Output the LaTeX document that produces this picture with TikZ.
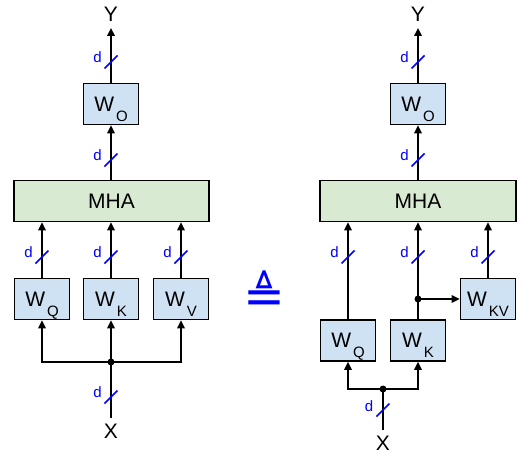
\documentclass[tikz,border=0pt]{standalone}
\usepackage{fontspec}
\setmainfont{Liberation Sans}
\newfontfamily\dejavu{DejaVu Sans}
\usetikzlibrary{arrows.meta}
\definecolor{boxblue}{HTML}{CFE2F3}
\definecolor{boxgreen}{HTML}{D9EAD3}
\definecolor{dblue}{HTML}{0000FF}
\newcommand{\Wsub}[1]{W\kern2pt\raisebox{-10pt}[0pt][0pt]{\fontsize{15}{15}\selectfont #1}}
\newcommand{\dslashmark}[2]{\draw[slashmark] (#1,#2) ++(-6.5,6.5) -- ++(13,-13);}
\begin{document}
\begin{tikzpicture}[x=1pt,y=-1pt,
 wbox/.style={draw=black,line width=1.6pt,fill=boxblue,minimum width=55pt,minimum height=41pt,inner sep=0pt,font=\fontsize{21}{21}\selectfont},
 mhabox/.style={draw=black,line width=1.6pt,fill=boxgreen,minimum width=195pt,minimum height=41pt,inner sep=0pt,font=\fontsize{21}{21}\selectfont},
 io/.style={inner xsep=0pt,inner ysep=6pt,font=\fontsize{21}{21}\selectfont},
 conn/.style={line width=1.5pt,-{Triangle[length=8pt,width=7.5pt]}},
 wire/.style={line width=1.5pt},
 dot/.style={circle,fill=black,inner sep=0pt,minimum size=7pt},
 dlab/.style={text=dblue,font=\fontsize{15}{15}\selectfont,inner sep=0pt},
 slashmark/.style={draw=dblue,line width=1.5pt}
]
\useasboundingbox (0,0) rectangle (520,455);

% ---------- left ----------
\node[io] (y1) at (111,14.5) {Y};
\node[wbox] (wo1) at (111,104) {\Wsub{O}};
\node[mhabox] (mha1) at (111.5,201) {MHA};
\node[wbox] (wq1) at (42,299) {\Wsub{Q}};
\node[wbox] (wk1) at (111,299) {\Wsub{K}};
\node[wbox] (wv1) at (181,299) {\Wsub{V}};
\node[io] (x1) at (111,431.5) {X};
\coordinate (j1) at (111,362);

\draw[conn] (wo1.north) -- (y1.south);
\draw[conn] (wo1.south |- mha1.north) -- (wo1.south);
\draw[conn] (wq1.north) -- (wq1.north |- mha1.south);
\draw[conn] (wk1.north) -- (wk1.north |- mha1.south);
\draw[conn] (wv1.north) -- (wv1.north |- mha1.south);
\draw[wire] (x1.north) -- (j1);
\draw[conn] (j1) -| (wq1.south);
\draw[conn] (j1) -| (wv1.south);
\draw[conn] (j1) -- (wk1.south);
\node[dot] (jd1) at (j1) {};

\dslashmark{111}{62}
\dslashmark{111}{160}
\dslashmark{42}{257}
\dslashmark{111}{257}
\dslashmark{181}{257}
\dslashmark{111}{397}
\node[dlab] (dl1) at (97.5,57.5) {d};
\node[dlab] (dl2) at (97.5,155) {d};
\node[dlab] (dl3) at (28.5,252) {d};
\node[dlab] (dl4) at (97.5,252) {d};
\node[dlab] (dl5) at (167.5,252) {d};
\node[dlab] (dl6) at (97.5,392) {d};

% ---------- equivalence ----------
\node[text=dblue,font=\dejavu\fontsize{50}{50}\selectfont,inner sep=0pt] (eq) at (264.5,292.5) {≜};

% ---------- right ----------
\node[io] (y2) at (418,14.5) {Y};
\node[wbox] (wo2) at (418,104) {\Wsub{O}};
\node[mhabox,minimum width=196pt] (mha2) at (418,201) {MHA};
\node[wbox] (wq2) at (348,340.5) {\Wsub{Q}};
\node[wbox] (wk2) at (418,340.5) {\Wsub{K}};
\node[wbox] (wkv2) at (488,299) {\Wsub{KV}};
\node[io] (x2) at (383,443) {X};
\coordinate (j2) at (383,389);
\coordinate (k2) at (418,299);

\draw[conn] (wo2.north) -- (y2.south);
\draw[conn] (wo2.south |- mha2.north) -- (wo2.south);
\draw[conn] (wq2.north) -- (wq2.north |- mha2.south);
\draw[conn] (wk2.north) -- (wk2.north |- mha2.south);
\draw[conn] (wkv2.north) -- (wkv2.north |- mha2.south);
\draw[conn] (k2) -- (wkv2.west);
\node[dot] (kd2) at (k2) {};
\draw[wire] (x2.north) -- (j2);
\draw[conn] (j2) -| (wq2.south);
\draw[conn] (j2) -| (wk2.south);
\node[dot] (jd2) at (j2) {};

\dslashmark{418}{62}
\dslashmark{418}{160}
\dslashmark{348}{257}
\dslashmark{418}{257}
\dslashmark{488}{257}
\dslashmark{383}{410}
\node[dlab] (dr1) at (404.5,57.5) {d};
\node[dlab] (dr2) at (404.5,155) {d};
\node[dlab] (dr3) at (334.5,252) {d};
\node[dlab] (dr4) at (404.5,252) {d};
\node[dlab] (dr5) at (474.5,252) {d};
\node[dlab] (dr6) at (369,406) {d};
\end{tikzpicture}
\end{document}
